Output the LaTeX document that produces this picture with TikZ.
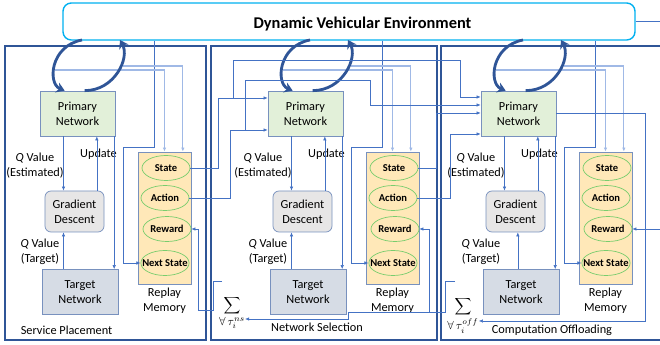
\documentclass[tikz,border=0pt]{standalone}
\usepackage{fontspec}
\setmainfont{Carlito}
\usetikzlibrary{arrows.meta,shapes.geometric}

\definecolor{envcyan}{RGB}{0,176,240}
\definecolor{panelblue}{RGB}{47,85,151}
\definecolor{linkblue}{RGB}{68,114,196}
\definecolor{paleblue}{RGB}{160,185,230}
\definecolor{boxedge}{RGB}{120,145,190}
\definecolor{primfill}{RGB}{226,240,217}
\definecolor{gradfill}{RGB}{231,230,230}
\definecolor{targfill}{RGB}{214,220,229}
\definecolor{memfill}{RGB}{255,232,184}
\definecolor{ovalgreen}{RGB}{120,205,110}

\tikzset{
	txt/.style={font=\fontsize{10.5}{13}\selectfont, align=center, inner sep=0pt},
	netbox/.style={draw=boxedge, line width=0.6pt, font=\fontsize{10.5}{13}\selectfont, align=center},
	oval/.style={ellipse, draw=ovalgreen, line width=0.6pt, minimum width=1.44cm, minimum height=0.75cm, inner xsep=-0.17cm, inner ysep=0pt, font=\fontsize{9}{10}\selectfont\bfseries},
	panel/.style={draw=panelblue, line width=1.6pt},
	link/.style={draw=linkblue, line width=0.5pt},
	pale/.style={draw=paleblue, line width=1pt},
	arr/.style={-{Latex[length=3.5pt,width=3pt]}},
	cyc/.style={draw=panelblue, line width=2.4pt, -{Stealth[length=7pt,width=9pt]}}
}

\begin{document}
\begin{tikzpicture}[x=0.03cm, y=-0.03cm]
	\useasboundingbox (0,0) rectangle (660,345);

	\node[draw=envcyan, line width=1.2pt, rounded corners=0.25cm, minimum width=17.16cm, minimum height=1.11cm] (env) at (349,21.5) {};
	\node[font=\fontsize{14}{16}\selectfont\bfseries] (title) at (362.5,24) {Dynamic Vehicular Environment};

	\draw[panel] (5,46) rectangle (206,340);
	\draw[panel] (211,46) rectangle (437,340);
	\draw[panel] (441,46) rectangle (672,340);

	\foreach \dx/\i/\tx in {0/1/-0.42, 228/2/-0.42, 441/3/-0.02} {
		\node[netbox, fill=primfill, minimum width=2.25cm, minimum height=1.35cm] (prim\i) at (\dx+77.5,113.5) {Primary\\Network};
		\node[netbox, fill=gradfill, rounded corners=0.18cm, minimum width=1.77cm, minimum height=1.23cm] (grad\i) at (\dx+74.5,211.5) {Gradient\\Descent};
		\node[netbox, fill=targfill, minimum width=2.28cm, minimum height=1.35cm] (targ\i) at (\dx+80,292) {Target\\Network};
		\node[draw=boxedge, line width=0.6pt, fill=memfill, minimum width=1.59cm, minimum height=3.96cm] (mem\i) at (\dx+164.5,218) {};
		\node[oval] (st\i) at (\dx+166,168) {State};
		\node[oval] (ac\i) at (\dx+165,198) {Action};
		\node[oval] (rw\i) at (\dx+167,229) {Reward};
		\node[oval] (ns\i) at (\dx+165,263) {Next State};

		\node[txt] (qe\i) at (\dx+35,165.5) {\textit{Q} Value\\(Estimated)};
		\node[txt] (up\i) at (\dx+98.5,154) {Update};
		\node[txt] (qt\i) at (\dx+40,251.5) {\textit{Q} Value\\(Target)};
		\node[txt] (rm\i) at (\dx+164.5,300.5) {Replay\\Memory};

		\coordinate (a\i) at (\dx+154,147);
		\coordinate (b\i) at (\dx+123,147);
		\coordinate (c\i) at (\dx+55,70);
		\coordinate (d\i) at (\dx+123,66);
		\coordinate (u\i) at (\dx+82,40);
		\coordinate (v\i) at (\dx+120,40);

		\draw[link, arr] ([xshift=-0.42cm]prim\i.south) -- ([xshift=-0.42cm]prim\i.south |- grad\i.north);
		\draw[link, arr] ([xshift=0.58cm]prim\i.south |- grad\i.north) -- ([xshift=0.58cm]prim\i.south);
		\draw[link, arr] ([xshift=\tx cm]prim\i.south |- targ\i.north) -- ([xshift=\tx cm]prim\i.south |- grad\i.south);
		\draw[link, arr] ([xshift=-1pt]prim\i.south east) -- ([xshift=-1pt]prim\i.south east |- targ\i.north);
		\draw[link, arr] (env.south -| a\i) -- (a\i) -- (b\i) |- (ns\i.west);
		\draw[pale, arr] (c\i) -| (mem\i.north);
		\draw[pale, arr] (d\i) -| ([xshift=0.55cm]mem\i.north);

		\draw[cyc] (u\i) .. controls +(-32,6) and +(-17,-7) .. ([xshift=0.75cm]prim\i.north west);
		\draw[cyc] ([xshift=1.35cm]prim\i.north west) .. controls +(30,0) and +(10,18) .. (v\i);
	}

	\node[txt] (sp) at (66.5,330) {Service Placement};
	\node[txt] (nsel) at (317,327) {Network Selection};
	\node[txt] (co) at (552,330) {Computation Offloading};

	\node[inner sep=0pt, font=\Large] (sum2) at (232,313) {$\displaystyle\sum_{\forall\,\tau_i^{ns}}$};
	\node[inner sep=0pt, font=\Large] (sum3) at (463,316) {$\displaystyle\sum_{\forall\,\tau_i^{off}}$};

	\coordinate (j1) at (218,98);
	\coordinate (j2) at (233,98);
	\coordinate (k1) at (233,60);
	\coordinate (k2) at (460,60);
	\coordinate (k3) at (460,97);
	\coordinate (m1) at (230,130);
	\coordinate (m2) at (245,130);
	\coordinate (m3) at (245,80);
	\coordinate (m4) at (370,80);
	\coordinate (m5) at (370,105);
	\coordinate (n1) at (436,113);
	\coordinate (n2) at (450,134);
	\coordinate (p1) at (645,113);
	\coordinate (p2) at (645,321);
	\coordinate (t2) at (222,281);
	\coordinate (r1) at (213,310);
	\coordinate (r2) at (198,310);
	\coordinate (t3) at (455,281);
	\coordinate (q1) at (445,312);
	\coordinate (q2) at (348,312);
	\coordinate (q3) at (348,319);
	\coordinate (q4) at (429,312);
	\coordinate (w1) at (666,100);

	\draw[link, arr] (st1.east) -| (j1) -- (j1 -| prim2.west);
	\draw[link, arr] (j2) -- (k1) -- (k2) -- (k3) -- (k3 -| prim3.west);
	\draw[link, arr] (ac1.east) -| (m1) -- (m1 -| prim2.west);
	\draw[link, arr] (m2) -- (m3) -- (m4) -- (m5) -- (m5 -| prim3.west);
	\draw[link, arr] (st2.east) -| (n1) -- (n1 -| prim3.west);
	\draw[link, arr] (ac2.east) -| (n2) -- (n2 -| prim3.west);
	\draw[link, arr] (p1 -| prim3.east) -- (p1) -- (p2) -- (p2 -| sum3.east);
	\draw[link, arr] (t3) -| (q1) -- (q2) -- (q3) -- (q3 -| sum2.east);
	\draw[link, arr] (q4) |- (rw2.east);
	\draw[link, arr] (t2) -| (r1) -- (r2) |- (rw1.east);
	\draw[link, arr] (env.east) -| (w1) |- (rw3.east);
\end{tikzpicture}
\end{document}
